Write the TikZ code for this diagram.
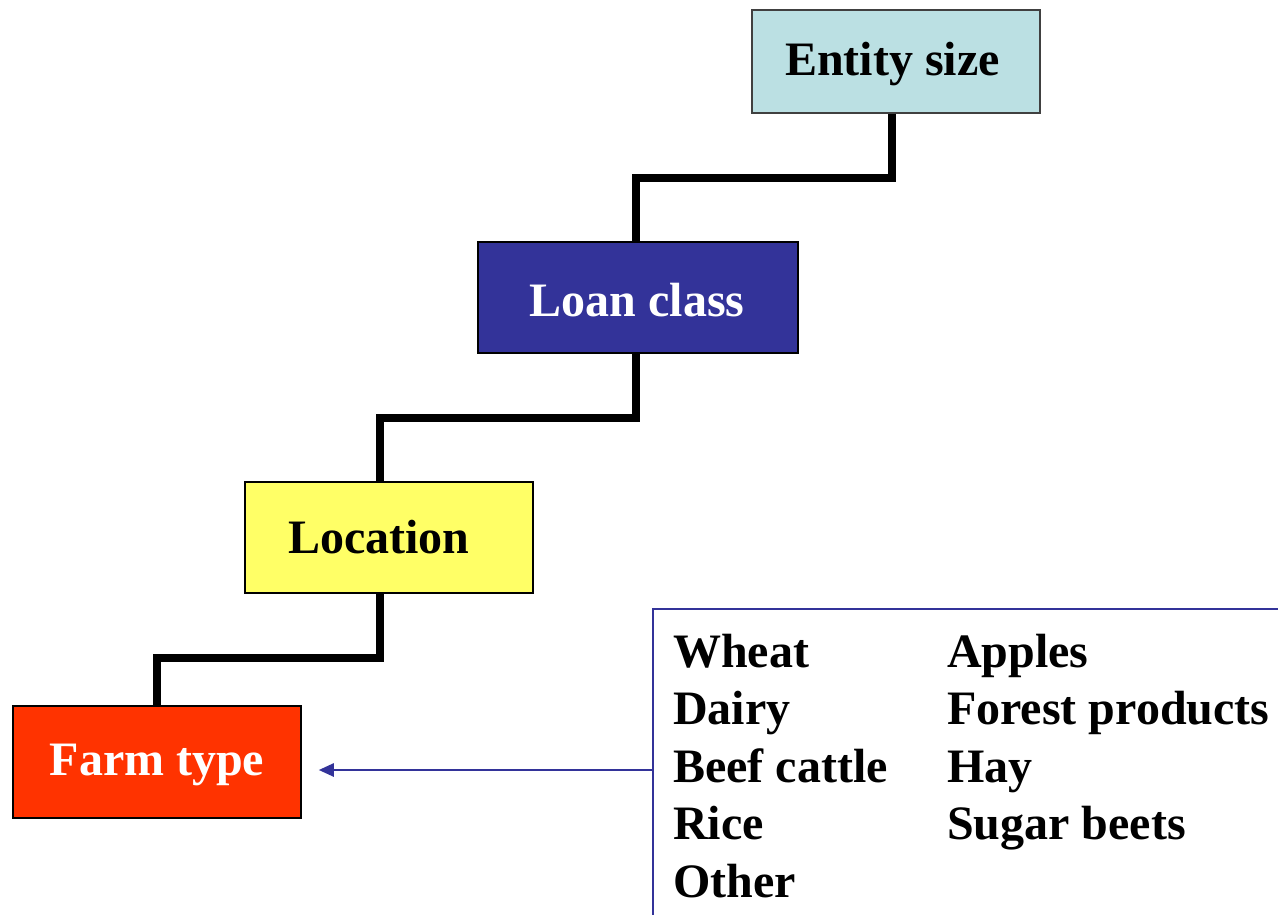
\documentclass[tikz,border=0pt]{standalone}
\usepackage{fontspec}
\setmainfont{Liberation Serif}
\usetikzlibrary{arrows.meta}
\definecolor{esfill}{HTML}{BBE0E3}
\definecolor{lcfill}{HTML}{333399}
\definecolor{locfill}{HTML}{FFFF66}
\definecolor{ftfill}{HTML}{FF3300}
\definecolor{listblue}{HTML}{333399}
% lower a label inside its box without changing the box size
\newcommand{\lowered}[2][3pt]{\raisebox{-#1}[\height][\depth]{#2}}
\tikzset{
  box/.style={draw=black, line width=1.5pt, inner sep=0pt,
    font=\fontsize{48}{57.5}\selectfont\bfseries},
  stair/.style={draw=black, line width=8pt, line join=miter, line cap=butt},
  item/.style={anchor=base west, inner sep=0pt,
    font=\fontsize{48}{57.5}\selectfont\bfseries},
  frame/.style={draw=listblue, line width=2.5pt},
  pointer/.style={draw=listblue, line width=2.5pt,
    -{Triangle[length=15pt,width=13pt]}},
}
\begin{document}
\begin{tikzpicture}[x=1pt,y=1pt]
\useasboundingbox (0,0) rectangle (1278,-915);

% hierarchy boxes
\node[box, fill=esfill, draw=black!75, minimum width=288pt, minimum height=103pt]
  (es) at (896,-61.5) {\lowered{\hspace*{-7pt}Entity size}};
\node[box, fill=lcfill, text=white, minimum width=320pt, minimum height=111pt]
  (lc) at (638,-297.5) {\lowered{\hspace*{-2pt}Loan class}};
\node[box, fill=locfill, minimum width=288pt, minimum height=111pt]
  (loc) at (389,-537.5) {\hspace*{-20pt}Location};
\node[box, fill=ftfill, text=white, minimum width=288pt, minimum height=112pt]
  (ft) at (157,-762) {\lowered{Farm type}};

% stair connectors
\draw[stair] ([xshift=-4pt]es.south) -- ++(0,-64) -| ([xshift=-2pt]lc.north);
\draw[stair] ([xshift=-2pt]lc.south) -- ++(0,-64) -| ([xshift=-9pt]loc.north);
\draw[stair] ([xshift=-9pt]loc.south) -- ++(0,-64) -| (ft.north);

% list frame
\coordinate (fr) at (653,-770);
\draw[frame] (1280,-609) -- (653,-609) -- (653,-917);

% list entries
\node[item] (i1) at (673,-667) {Wheat};
\node[item] (i2) at (673,-724.5) {Dairy};
\node[item] (i3) at (673,-782) {Beef cattle};
\node[item] (i4) at (673,-839.5) {Rice};
\node[item] (i5) at (673,-897) {Other};
\node[item] (j1) at (947,-667) {Apples};
\node[item] (j2) at (947,-724.5) {Forest products};
\node[item] (j3) at (947,-782) {Hay};
\node[item] (j4) at (947,-839.5) {Sugar beets};

% pointer to farm type
\draw[pointer, shorten >=17pt] (fr) -- (fr -| ft.east);
\end{tikzpicture}
\end{document}
